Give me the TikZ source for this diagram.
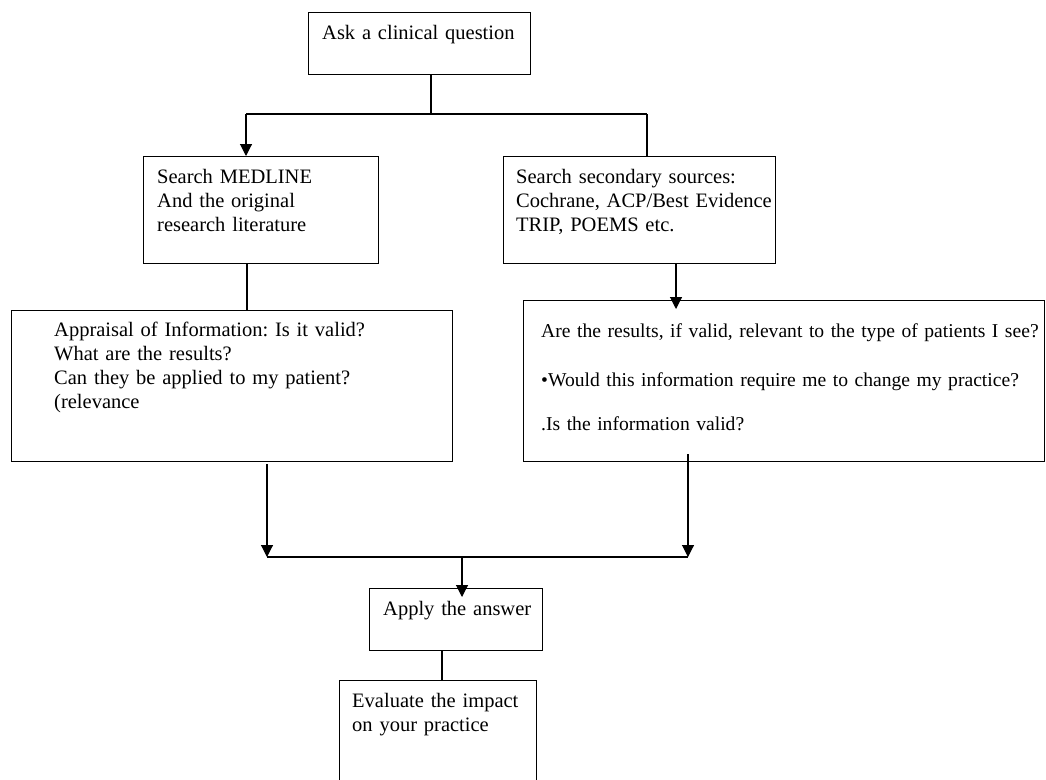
\documentclass[tikz,border=0pt]{standalone}
\usepackage{fontspec}
\setmainfont{Liberation Serif}
\usetikzlibrary{arrows.meta}
\newcommand\mytextfont{\fontsize{20.5}{24}\selectfont\frenchspacing}
\newcommand\mytightfont{\fontsize{19.6}{24}\selectfont\frenchspacing\spaceskip=4pt plus 1pt minus 1pt\relax}
\begin{document}
\frenchspacing
\begin{tikzpicture}[x=1pt,y=-1pt,
  boxshape/.style={draw, line width=1.1pt, inner sep=0pt, anchor=north west},
  txt/.style={anchor=base west, inner sep=0pt, align=left, text width=#1,
              font=\mytextfont},
  tighttxt/.style={anchor=base west, inner sep=0pt, align=left, text width=#1,
              font=\mytightfont},
  conn/.style={line width=1.1pt},
  arr/.style={line width=1.1pt, -{Triangle[length=12pt,width=12pt]}}]
\useasboundingbox (0,0) rectangle (1046,779);
\clip (0,0) rectangle (1046,779);
\fill[white] (0,0) rectangle (1046,779);

% boxes
\node[boxshape, minimum width=222pt, minimum height=62pt]  (q) at (308,12) {};
\node[boxshape, minimum width=235pt, minimum height=107pt] (m) at (143,156) {};
\node[boxshape, minimum width=272pt, minimum height=107pt] (s) at (503,156) {};
\node[boxshape, minimum width=441pt, minimum height=151pt] (a) at (11,310) {};
\node[boxshape, minimum width=521pt, minimum height=161pt] (r) at (523,300) {};
\node[boxshape, minimum width=173pt, minimum height=62pt]  (p) at (369,588) {};
\node[boxshape, minimum width=197pt, minimum height=140pt] (e) at (339,680) {};

% texts
\node[txt=220pt] (qt) at (322,39) {Ask a clinical question};
\node[txt=230pt] (mt) at (157,183) {Search MEDLINE\\And the original\\research literature};
\node[txt=270pt] (st) at (516,183) {Search secondary sources:\\Cochrane, ACP/Best Evidence\\TRIP, POEMS etc.};
\node[txt=400pt] (at) at (54,336) {Appraisal of Information: Is it valid?\\What are the results?\\Can they be applied to my patient?\\(relevance};
\node[tighttxt=600pt] (rt) at (541,337) {Are the results, if valid, relevant to the type of patients I see?\\[25pt]•Would this information require me to change my practice?\\[20pt].Is the information valid?};
\node[txt=180pt] (pt) at (383,615) {Apply the answer};
\node[txt=200pt] (et) at (352,707) {Evaluate the impact\\on your practice};

% junction coordinates
\coordinate (j1) at (431,114);
\coordinate (jl) at (246,114);
\coordinate (jr) at (647,114);
\coordinate (mx) at (247,0);
\coordinate (sx) at (676,0);
\coordinate (stip) at (676,309);
\coordinate (blt) at (267,464);
\coordinate (brt) at (688,454);
\coordinate (bl) at (267,557);
\coordinate (br) at (688,557);
\coordinate (bm) at (462,557);
\coordinate (ptip) at (462,597);
\coordinate (px) at (442,0);

% connectors
\draw[conn] (j1 |- q.south) -- (j1);
\draw[conn] (jl) -- (jr);
\draw[arr] (jl) -- (jl |- m.north);
\draw[conn] (jr) -- (jr |- s.north);
\draw[conn] (mx |- m.south) -- (mx |- a.north);
\draw[arr] (sx |- s.south) -- (stip);
\draw[arr] (blt) -- (bl);
\draw[arr] (brt) -- (br);
\draw[conn] (bl) -- (br);
\draw[arr] (bm) -- (ptip);
\draw[conn] (px |- p.south) -- (px |- e.north);
\end{tikzpicture}
\end{document}
